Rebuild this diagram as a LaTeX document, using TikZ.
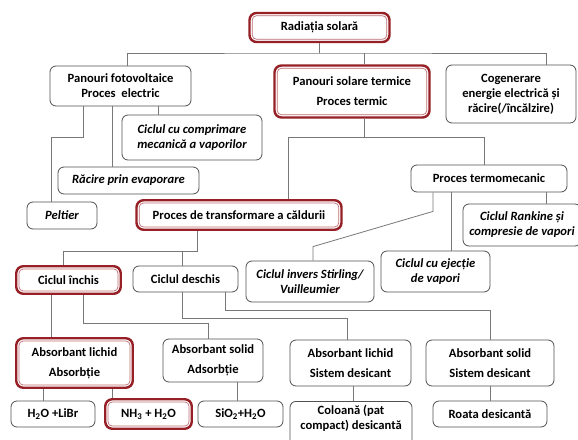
\documentclass[tikz,border=0pt]{standalone}
\usepackage{fontspec}
\setmainfont{Carlito}
\usepackage{xcolor}
\definecolor{mlred}{RGB}{150,32,38}
\definecolor{mlline}{RGB}{120,120,120}
\definecolor{mlbox}{RGB}{80,80,80}
\usetikzlibrary{calc}

\begin{document}
\begin{tikzpicture}[x=1pt,y=-1pt,
  box/.style={draw=mlbox,line width=0.8pt,rounded corners=6pt,align=center,
    inner sep=1pt,font=\fontsize{12.6}{15}\selectfont\bfseries},
  note/.style={box,font=\fontsize{12.6}{15}\selectfont\bfseries\itshape},
  hot/.style={box,draw=mlred,line width=2.4pt,rounded corners=7pt,
    append after command={\pgfextra{\draw[draw=mlred!65,line width=0.7pt,rounded corners=4pt]
      ([shift={(4pt,4pt)}]\tikzlastnode.south west) rectangle ([shift={(-4pt,-4pt)}]\tikzlastnode.north east);}}},
  link/.style={draw=mlline,line width=0.8pt}
]
  \clip (0,0) rectangle (578,439);
  \fill[white] (0,0) rectangle (578,439);

  % Top level
  \node[hot,minimum width=140pt,minimum height=29pt] (rad) at (319.5,27.5) {Radiația solară};
  \node[box,minimum width=141pt,minimum height=40pt] (pv) at (120.5,86) {Panouri fotovoltaice\\Proces~ electric};
  \node[hot,minimum width=155pt,minimum height=52pt] (pst) at (352,91.5) {Panouri solare termice\\[5pt]Proces termic};
  \node[box,minimum width=130pt,minimum height=58pt] (cog) at (511,94) {Cogenerare\\energie electrică și\\răcire(/încălzire)};

  % Fotovoltaic branch
  \node[note,minimum width=140pt,minimum height=45pt] (ccm) at (192,137.5) {Ciclul cu comprimare\\mecanică a vaporilor};
  \node[note,minimum width=141pt,minimum height=27pt] (rac) at (128.5,180.5) {Răcire prin evaporare};
  \node[note,minimum width=70pt,minimum height=27pt] (pel) at (62,215.5) {Peltier};

  % Thermal branch
  \node[hot,minimum width=205pt,minimum height=29.5pt] (ptc) at (239,215) {Proces de transformare a căldurii};
  \node[box,minimum width=156pt,minimum height=27pt] (ptm) at (489,178.5) {Proces termomecanic};
  \node[note,minimum width=118pt,minimum height=42pt] (rank) at (522,225) {Ciclul Rankine și\\compresie de vapori};
  \node[note,minimum width=109pt,minimum height=41pt] (ejc) at (435.5,271.5) {Ciclul cu ejecție\\de vapori};
  \node[note,minimum width=128pt,minimum height=41pt] (stir) at (310,281.5) {Ciclul invers Stirling/\\Vuilleumier};

  % Cycles
  \node[hot,minimum width=104.5pt,minimum height=27.5pt] (cin) at (68.5,280) {Ciclul închis};
  \node[box,minimum width=105pt,minimum height=26pt] (cdes) at (185.5,279) {Ciclul deschis};
  \node[hot,minimum width=116.5pt,minimum height=49.5pt] (al) at (74.5,363) {Absorbant lichid\\[5pt]Absorbție};
  \node[box,minimum width=100pt,minimum height=43pt] (as) at (213,360.5) {Absorbant solid\\[5pt]Adsorbție};
  \node[box,minimum width=121pt,minimum height=46pt] (ald) at (350.5,363) {Absorbant lichid\\[5pt]Sistem desicant};
  \node[box,minimum width=128pt,minimum height=46pt] (asd) at (490,363) {Absorbant solid\\[5pt]Sistem desicant};

  % Working pairs
  \node[box,minimum width=84pt,minimum height=26pt] (h2o) at (53,414) {H\textsubscript{2}O +LiBr};
  \node[hot,minimum width=86.5pt,minimum height=29.5pt] (nh3) at (148.5,414) {NH\textsubscript{3} + H\textsubscript{2}O};
  \node[box,minimum width=85pt,minimum height=26pt] (sio) at (240.5,414) {SiO\textsubscript{2}+H\textsubscript{2}O};
  \node[box,minimum width=122pt,inner ysep=4pt,text depth=24pt,anchor=north] (col) at (351,401) {Coloană (pat\\compact) desicantă};
  \node[box,minimum width=114pt,minimum height=26pt] (roa) at (490,414) {Roata desicantă};

  % Connectors
  \coordinate (b0) at (319.5,53);
  \draw[link] (rad.south) -- (b0);
  \draw[link] ([xshift=6.5pt]pv.north) |- (b0) -| ([xshift=35pt]cog.north);
  \draw[link] ([xshift=12pt]pst.north) -- ([xshift=12pt]pst.north |- b0);

  \draw[link] ([xshift=37.5pt]pv.south) -- ([xshift=37.5pt]pv.south |- ccm.north);
  \draw[link] ([xshift=-8.5pt]pv.south) -- ([xshift=-8.5pt]pv.south |- rac.north);
  \draw[link] ([xshift=-37.5pt]pv.south) -- ++(0,31) -| ([xshift=-11pt]pel.north);

  \draw[link] ([xshift=12pt]pst.south) -- ++(0,19) coordinate (b2);
  \draw[link] ([xshift=49pt]ptc.north) |- (b2) -| ([xshift=-5pt]ptm.north);

  \draw[link] ([xshift=57pt]ptm.south) -- ([xshift=57pt]ptm.south |- rank.north);
  \draw[link] ([xshift=-38pt]ptm.south) -- ([xshift=-38pt]ptm.south |- ejc.north);
  \draw[link] ([xshift=-56pt]ptm.south) -- ++(0,19) -- ([xshift=3pt,yshift=14pt]stir.north) -- ([xshift=3pt]stir.north);

  \draw[link] ([xshift=-42pt]ptc.south) -- ++(0,20) coordinate (b3) -| ([xshift=-5.5pt]cin.north);
  \draw[link] ([xshift=-3.5pt]cdes.north) |- (b3);

  \draw[link] ([xshift=-17.5pt]cin.south) -- ([xshift=-17.5pt]cin.south |- al.north);
  \draw[link] ([xshift=14.5pt]cin.south) -- ++(0,28) -| ([xshift=-5pt]as.north);
  \draw[link] ([xshift=-3.5pt]cdes.south) -- ++(0,26) -| ([xshift=-3.5pt]ald.north);
  \draw[link] ([xshift=39.5pt]cdes.south) -- ++(0,18) -| (asd.north);

  \draw[link] ([xshift=-31.5pt]al.south) -- ([xshift=-31.5pt]al.south |- h2o.north);
  \draw[link] ([xshift=37.5pt]al.south) -- ([xshift=37.5pt]al.south |- nh3.north);
  \draw[link] ([xshift=24pt]as.south) -- ([xshift=24pt]as.south |- sio.north);
  \draw[link] ([xshift=2.5pt]ald.south) -- ([xshift=2.5pt]ald.south |- col.north);
  \draw[link] (asd.south) -- (roa.north);
\end{tikzpicture}
\end{document}
